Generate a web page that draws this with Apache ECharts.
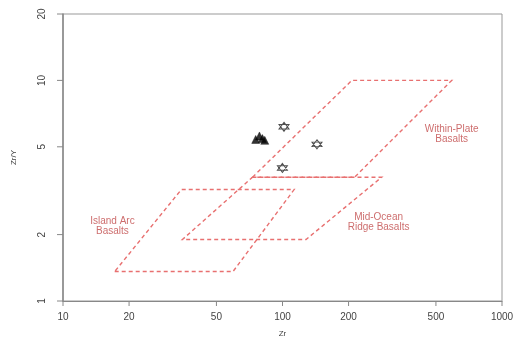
<!DOCTYPE html>
<html>
<head>
<meta charset="utf-8">
<script src="https://cdn.jsdelivr.net/npm/echarts@6/dist/echarts.min.js"></script>
<style>html,body{margin:0;padding:0;background:#fff}#c{width:515px;height:340px}</style>
</head>
<body>
<div id="c"></div>
<script>
// ---- data ----
var xTicks = [10, 20, 50, 100, 200, 500, 1000];
var yTicks = [1, 2, 5, 10, 20];
// field polygons (Zr, Zr/Y)
var wpbZr  = [73, 207, 590, 213];
var wpbZrY = [3.64, 10, 10, 3.64];
var morbZr  = [73, 283, 128, 35];
var morbZrY = [3.64, 3.64, 1.9, 1.9];
var iabZr  = [17.2, 59.5, 113, 34.6];
var iabZrY = [1.36, 1.36, 3.2, 3.2];
// samples
var triZr  = [75.5, 78.5, 81, 83];
var triZrY = [5.4, 5.6, 5.45, 5.35];
var hexZr  = [101.6, 143.6, 99.9];
var hexZrY = [6.16, 5.13, 4.01];

function pairs(a, b) {
  return a.map(function (v, i) { return [v, b[i]]; });
}

var chart = echarts.init(document.getElementById('c'), null, {renderer: 'canvas'});
var textColor = '#444';
var font = 'Liberation Sans, Arial, sans-serif';
var fieldText = '#c04848';
var fieldStroke = '#e87070';

function polySeries(zr, zry) {
  var pts = pairs(zr, zry);
  return {
    type: 'custom', silent: true, z: 2, clip: false,
    data: [0],
    renderItem: function (params, api) {
      var p = pts.map(function (d) { return api.coord(d); });
      return {type: 'polygon', shape: {points: p},
        style: {fill: null, stroke: fieldStroke, lineWidth: 1.4, lineDash: [4, 3]}};
    }
  };
}
function labelSeries(pos, text) {
  return {
    type: 'scatter', data: [pos], symbolSize: 0, silent: true,
    label: {show: true, position: 'inside', formatter: text, color: fieldText,
      fontSize: 10, fontFamily: font, lineHeight: 10, align: 'center'},
    z: 1
  };
}

var option = {
  animation: false,
  grid: {left: 63, right: 13, top: 14, bottom: 39, show: true, borderColor: '#999', borderWidth: 1,
    containLabel: false, outerBoundsMode: 'none'},
  xAxis: {
    type: 'log', logBase: 10, min: 10, max: 1000,
    axisLine: {show: true, lineStyle: {color: '#888', width: 1}},
    axisTick: {show: false}, axisLabel: {show: false}, splitLine: {show: false},
    name: 'Zr', nameLocation: 'middle', nameGap: 29,
    nameTextStyle: {color: textColor, fontSize: 8, fontFamily: font}
  },
  yAxis: {
    type: 'log', logBase: 10, min: 1, max: 20,
    axisLine: {show: true, lineStyle: {color: '#888', width: 1.5}},
    axisTick: {show: false}, axisLabel: {show: false}, splitLine: {show: false},
    name: 'Zr/Y', nameLocation: 'middle', nameGap: 45,
    nameTextStyle: {color: textColor, fontSize: 8, fontFamily: font}
  },
  series: [
    polySeries(wpbZr, wpbZrY),
    polySeries(morbZr, morbZrY),
    polySeries(iabZr, iabZrY),
    labelSeries([16.8, 2.18], 'Island Arc\nBasalts'),
    labelSeries([274, 2.28], 'Mid-Ocean\nRidge Basalts'),
    labelSeries([590, 5.73], 'Within-Plate\nBasalts'),
    {
      type: 'scatter', data: pairs(triZr, triZrY), symbol: 'triangle', symbolSize: 8,
      itemStyle: {color: '#000', borderColor: '#000', borderWidth: 0.5}, z: 5
    },
    {
      type: 'scatter', data: pairs(hexZr, hexZrY),
      symbol: 'path://M0,-10L8.66,5L-8.66,5ZM0,10L8.66,-5L-8.66,-5Z', symbolSize: [10, 9],
      itemStyle: {color: 'rgba(0,0,0,0)', borderColor: '#222', borderWidth: 1}, z: 5
    },
    {
      type: 'custom', clip: false, silent: true, z: 6,
      data: xTicks.map(function (v) { return [v, 1]; }),
      renderItem: function (params, api) {
        var p = api.coord([api.value(0), api.value(1)]);
        return {type: 'group', children: [
          {type: 'line', shape: {x1: p[0], y1: p[1], x2: p[0], y2: p[1] + 5}, style: {stroke: '#888', lineWidth: 1}},
          {type: 'text', style: {text: String(api.value(0)), x: p[0], y: p[1] + 16, align: 'center', verticalAlign: 'middle',
            fill: textColor, fontSize: 10, fontFamily: font}}
        ]};
      }
    },
    {
      type: 'custom', clip: false, silent: true, z: 6,
      data: yTicks.map(function (v) { return [10, v]; }),
      renderItem: function (params, api) {
        var p = api.coord([api.value(0), api.value(1)]);
        return {type: 'group', children: [
          {type: 'line', shape: {x1: p[0] - 6, y1: p[1], x2: p[0], y2: p[1]}, style: {stroke: '#888', lineWidth: 1}},
          {type: 'text', x: p[0] - 21, y: p[1], rotation: Math.PI / 2,
            style: {text: String(api.value(1)), x: 0, y: 0, align: 'center', verticalAlign: 'middle',
            fill: textColor, fontSize: 10, fontFamily: font}}
        ]};
      }
    }
  ]
};
chart.setOption(option);
</script>
</body>
</html>
